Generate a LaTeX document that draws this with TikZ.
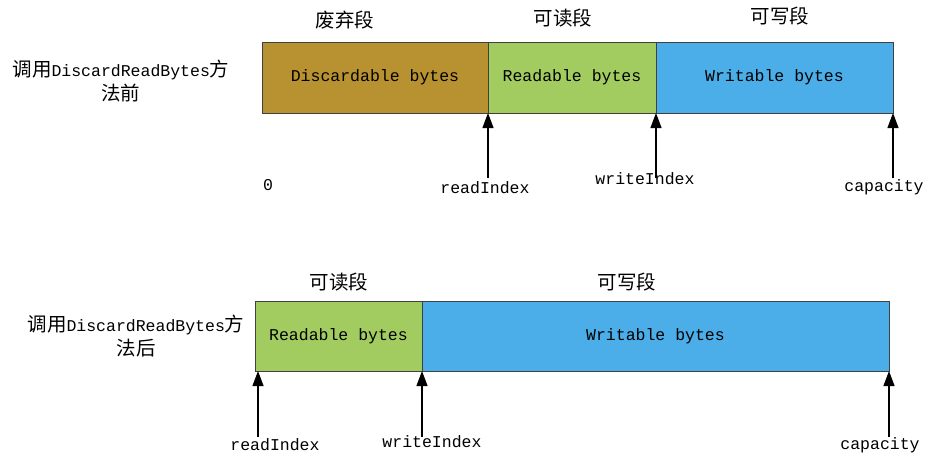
\documentclass[tikz,border=0pt]{standalone}
\usepackage{fontspec}
\setmainfont{Liberation Mono}
\newfontfamily\cjk{Noto Sans CJK SC}
\usepackage{xcolor}
\definecolor{discardbrown}{HTML}{B89230}
\definecolor{readgreen}{HTML}{A2CC60}
\definecolor{writeblue}{HTML}{4BAEE8}
\definecolor{edgegray}{HTML}{404040}
\newcommand{\zh}[1]{{\cjk\fontsize{19.5}{24}\selectfont #1}}
\usetikzlibrary{arrows.meta,positioning}

\begin{document}
\begin{tikzpicture}[x=1pt,y=-1pt,>={Triangle[length=15pt,width=11pt]},line width=1.2pt,
                    every node/.style={font=\fontsize{16.5}{24}\selectfont}]
              \tikzstyle{seg}=[draw=edgegray,line width=1pt,minimum height=71pt,outer sep=0pt,inner sep=0pt]
              \tikzstyle{e}=[->,color=black]
              \useasboundingbox (0,0) rectangle (935,464);

              % before DiscardReadBytes
              \node[seg,fill=discardbrown,minimum width=226pt] (D1) at (375,77.5)      {Discardable bytes};
              \node[seg,fill=readgreen,minimum width=168pt]    (R1) [right=0pt of D1] {Readable bytes};
              \node[seg,fill=writeblue,minimum width=237pt]    (W1) [right=0pt of R1] {Writable bytes};

              \node (T1) at (345,20) {\zh{废弃段}};
              \node (T2) at (563,18) {\zh{可读段}};
              \node (T3) at (780,16) {\zh{可写段}};
              \node[align=center] (L1) at (121,81) {\zh{调用}DiscardReadBytes\zh{方}\\\zh{法前}};

              \node (Z1)  at (268,185) {0};
              \node (RI1) at (485,188) {readIndex};
              \node (WI1) at (645,179) {writeIndex};
              \node (C1)  at (884,187) {capacity};

              % after DiscardReadBytes
              \node[seg,fill=readgreen,minimum width=167pt,minimum height=70pt] (R2) at (338.5,336)     {Readable bytes};
              \node[seg,fill=writeblue,minimum width=467pt,minimum height=70pt] (W2) [right=0pt of R2] {Writable bytes};

              \node (T4) at (339,282) {\zh{可读段}};
              \node (T5) at (627,282) {\zh{可写段}};
              \node[align=center] (L2) at (136,336) {\zh{调用}DiscardReadBytes\zh{方}\\\zh{法后}};

              \node (RI2) at (275,445) {readIndex};
              \node (WI2) at (432,442) {writeIndex};
              \node (C2)  at (880,445) {capacity};

              \path ([yshift=-65pt]D1.south east)            edge [e] (D1.south east)
                    ([yshift=-65pt]R1.south east)            edge [e] (R1.south east)
                    ([yshift=-65pt]W1.south east)            edge [e] (W1.south east)
                    ([xshift=3pt,yshift=-66pt]R2.south west) edge [e] ([xshift=3pt]R2.south west)
                    ([yshift=-66pt]W2.south west)            edge [e] (W2.south west)
                    ([yshift=-66pt]W2.south east)            edge [e] (W2.south east);

\end{tikzpicture}
\end{document}
